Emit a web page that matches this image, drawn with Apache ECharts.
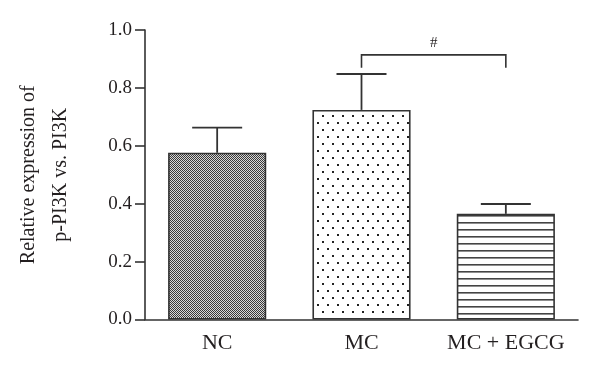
<!DOCTYPE html>
<html>
<head>
<meta charset="utf-8">
<script src="https://cdn.jsdelivr.net/npm/echarts@6/dist/echarts.min.js"></script>
<style>html,body{margin:0;padding:0;background:#fff;}#c{width:600px;height:379px;}</style>
</head>
<body>
<div id="c"></div>
<script>
const categories = ['NC', 'MC', 'MC + EGCG'];
const means = [0.576, 0.724, 0.365];
const upper = [0.6625, 0.848, 0.399];
const yTicks = [0, 0.2, 0.4, 0.6, 0.8, 1.0];
const bracket = [[1, 2, 0.914, 0.870]];
const bracketLabel = '#';

function makePattern(type) {
  const c = document.createElement('canvas');
  const ctx = c.getContext('2d');
  if (type === 'check') {
    c.width = 2; c.height = 2;
    ctx.fillStyle = '#d8d8d8'; ctx.fillRect(0, 0, 2, 2);
    ctx.fillStyle = '#383838'; ctx.fillRect(0, 0, 1, 1); ctx.fillRect(1, 1, 1, 1);
  } else if (type === 'dots') {
    c.width = 10; c.height = 14;
    ctx.fillStyle = '#fff'; ctx.fillRect(0, 0, 10, 14);
    ctx.fillStyle = '#222';
    ctx.fillRect(2, 3, 2, 2); ctx.fillRect(7, 10, 2, 2);
  } else {
    c.width = 4; c.height = 7;
    ctx.fillStyle = '#fff'; ctx.fillRect(0, 0, 4, 7);
    ctx.fillStyle = '#444'; ctx.fillRect(0, 5, 4, 1.6);
  }
  return c;
}
const patterns = [makePattern('check'), makePattern('dots'), makePattern('lines')];

const chart = echarts.init(document.getElementById('c'));
const FONT = 'Liberation Serif';
const TXT = '#231f20';
chart.setOption({
  animation: false,
  backgroundColor: '#fff',
  grid: { left: 145, right: 22, top: 30, bottom: 59.5, containLabel: false, outerBoundsMode: 'none' },
  xAxis: {
    type: 'category',
    data: categories,
    axisLine: { lineStyle: { color: '#333', width: 1.6 } },
    axisTick: { alignWithLabel: true, length: 10, lineStyle: { color: '#333', width: 1.6 } },
    axisLabel: { color: TXT, fontFamily: FONT, fontSize: 22, margin: 13, interval: 0 }
  },
  yAxis: {
    type: 'value', min: 0, max: 1, interval: 0.2,
    name: 'Relative expression of\np-PI3K vs. PI3K',
    nameLocation: 'middle', nameRotate: 90, nameGap: 68,
    nameTextStyle: { color: TXT, fontFamily: FONT, fontSize: 20, lineHeight: 32 },
    axisLine: { show: true, lineStyle: { color: '#333', width: 1.6 } },
    axisTick: { show: true, length: 10, lineStyle: { color: '#333', width: 1.6 } },
    splitLine: { show: false },
    axisLabel: { color: TXT, fontFamily: FONT, fontSize: 19, margin: 13,
      formatter: v => v.toFixed(1) }
  },
  series: [
    {
      type: 'bar', barWidth: '68%',
      data: means.map((v, i) => ({ value: v, itemStyle: { color: { image: patterns[i], repeat: 'repeat' } } })),
      itemStyle: { borderColor: '#333', borderWidth: 1.6 },
      z: 2
    },
    {
      type: 'custom',
      data: means.map((v, i) => [i, v, upper[i]]),
      renderItem: function (params, api) {
        const b = api.coord([api.value(0), api.value(1)]);
        const t = api.coord([api.value(0), api.value(2)]);
        const hw = 25;
        return {
          type: 'group',
          children: [
            { type: 'line', shape: { x1: b[0], y1: b[1], x2: t[0], y2: t[1] }, style: { stroke: '#333', lineWidth: 1.8 } },
            { type: 'line', shape: { x1: t[0] - hw, y1: t[1], x2: t[0] + hw, y2: t[1] }, style: { stroke: '#333', lineWidth: 1.8 } }
          ]
        };
      },
      z: 3
    },
    {
      type: 'custom',
      data: bracket,
      renderItem: function (params, api) {
        const a = api.coord([api.value(0), api.value(2)]);
        const b = api.coord([api.value(1), api.value(2)]);
        const la = api.coord([api.value(0), api.value(3)]);
        return {
          type: 'group',
          children: [
            { type: 'polyline', shape: { points: [[la[0], la[1]], a, b, [b[0], la[1]]] }, style: { stroke: '#333', lineWidth: 1.6, fill: null } },
            { type: 'text', x: (a[0] + b[0]) / 2, y: a[1] - 4, style: { text: bracketLabel, fill: TXT, font: '15px "Liberation Serif"', align: 'center', verticalAlign: 'bottom' } }
          ]
        };
      },
      z: 3
    }
  ]
});
</script>
</body>
</html>
